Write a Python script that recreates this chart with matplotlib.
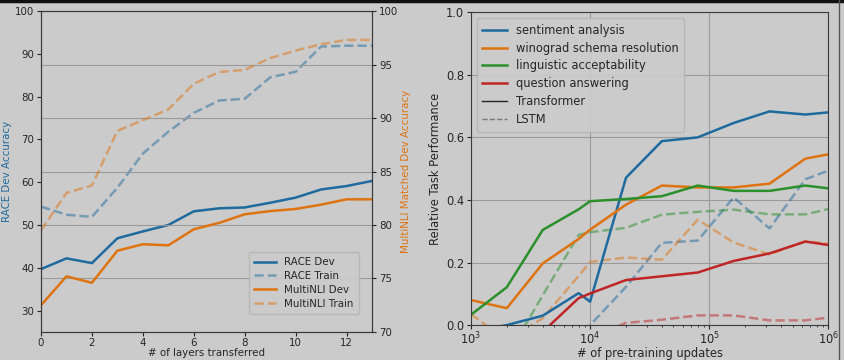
import matplotlib
matplotlib.use("Agg")
import matplotlib.pyplot as plt
from matplotlib.lines import Line2D
import numpy as np

# ---------------- data: left panel ----------------
layers = list(range(14))
race_dev = [39.7, 42.2, 41.1, 46.9, 48.5, 50.0, 53.2, 53.9, 54.1, 55.2, 56.4, 58.3, 59.1, 60.3]
race_train = [54.3, 52.4, 51.9, 58.7, 66.7, 71.8, 76.2, 79.1, 79.5, 84.5, 85.8, 91.7, 91.9, 91.9]
mnli_dev = [72.5, 75.2, 74.6, 77.6, 78.2, 78.1, 79.6, 80.2, 81.0, 81.3, 81.5, 81.9, 82.4, 82.4]
mnli_train = [79.5, 83.0, 83.7, 88.8, 89.8, 90.8, 93.2, 94.3, 94.5, 95.6, 96.3, 96.9, 97.3, 97.3]

# ---------------- data: right panel ----------------
updates = [1e3, 2e3, 4e3, 8e3, 1e4, 2e4, 4e4, 8e4, 1.6e5, 3.2e5, 6.4e5, 1e6]
tasks = ["sentiment analysis", "winograd schema resolution",
         "linguistic acceptability", "question answering"]
trans_sent = [-0.02, 0.0, 0.03, 0.102, 0.075, 0.471, 0.588, 0.600, 0.646, 0.683, 0.673, 0.680]
trans_wino = [0.080, 0.054, 0.197, 0.275, 0.305, 0.385, 0.446, 0.440, 0.440, 0.452, 0.532, 0.546]
trans_ling = [0.033, 0.121, 0.304, 0.370, 0.396, 0.403, 0.412, 0.446, 0.429, 0.429, 0.446, 0.437]
trans_qa = [-0.10, -0.05, -0.022, 0.086, 0.101, 0.144, 0.156, 0.168, 0.205, 0.229, 0.267, 0.256]
lstm_sent = [-0.15, -0.12, -0.09, -0.05, 0.0, 0.122, 0.263, 0.270, 0.408, 0.309, 0.466, 0.494]
lstm_wino = [0.035, -0.05, 0.022, 0.157, 0.202, 0.216, 0.209, 0.337, 0.264, 0.226, 0.268, 0.260]
lstm_ling = [-0.20, -0.10, 0.095, 0.288, 0.297, 0.311, 0.353, 0.362, 0.369, 0.354, 0.354, 0.371]
lstm_qa = [-0.20, -0.15, -0.10, -0.06, -0.04, 0.007, 0.017, 0.031, 0.031, 0.015, 0.015, 0.024]

BG = "#cbcbcb"
TXT = "#262626"
C_BLUE = "#1f6a9e"
C_ORANGE = "#de7310"
C_GREEN = "#2b8f2b"
C_RED = "#bf2526"
FS_L = 7.4
FS_R = 8.3

plt.rcParams.update({
    "font.family": "DejaVu Sans",
    "font.size": FS_L,
    "text.color": TXT,
    "axes.labelcolor": TXT,
    "xtick.color": TXT,
    "ytick.color": TXT,
    "axes.edgecolor": "#3a3a3a",
})

fig = plt.figure(figsize=(8.44, 3.6), dpi=100, facecolor=BG)

# ---------------- left panel ----------------
ax1 = fig.add_axes([0.0486, 0.0778, 0.3922, 0.8916])
ax1.set_facecolor(BG)
ax2 = ax1.twinx()

l1, = ax1.plot(layers, race_dev, color=C_BLUE, lw=1.8, label="RACE Dev")
l2, = ax1.plot(layers, race_train, color=C_BLUE, lw=1.8, ls="--", alpha=0.5, label="RACE Train")
l3, = ax2.plot(layers, mnli_dev, color=C_ORANGE, lw=1.8, label="MultiNLI Dev")
l4, = ax2.plot(layers, mnli_train, color=C_ORANGE, lw=1.8, ls="--", alpha=0.5, label="MultiNLI Train")

ax1.set_xlim(0, 13)
ax1.set_ylim(25, 100)
ax1.set_yticks(range(30, 101, 10))
ax1.set_xticks(range(0, 13, 2))
ax2.set_ylim(70, 100)
ax2.set_yticks(range(70, 101, 5))
ax2.yaxis.grid(True, color="#9a9a9a", lw=0.8)
ax2.set_axisbelow(True)
ax1.set_xlabel("# of layers transferred", fontsize=FS_L, labelpad=0)
ax1.set_ylabel("RACE Dev Accuracy", color=C_BLUE, fontsize=FS_L, labelpad=2)
ax2.set_ylabel("MultiNLI Matched Dev Accuracy", color=C_ORANGE, fontsize=FS_L, labelpad=2)
for a in (ax1, ax2):
    a.tick_params(labelsize=FS_L, length=3, pad=2)
ax1.tick_params(axis="x", pad=1.5)
ax2.legend(handles=[l1, l2, l3, l4], loc="lower right",
           bbox_to_anchor=(0.975, 0.04), fontsize=FS_L,
           facecolor=BG, edgecolor="#b5b5b5", framealpha=0.9,
           handlelength=2.1, borderpad=0.5, labelspacing=0.38)

# ---------------- right panel ----------------
ax3 = fig.add_axes([0.558, 0.097, 0.4236, 0.869])
ax3.set_facecolor(BG)
colors = [C_BLUE, C_ORANGE, C_GREEN, C_RED]
trans = [trans_sent, trans_wino, trans_ling, trans_qa]
lstm = [lstm_sent, lstm_wino, lstm_ling, lstm_qa]
handles = []
for c, l in zip(colors, lstm):
    ax3.plot(updates, l, color=c, lw=1.8, ls="--", alpha=0.5)
for name, c, t in zip(tasks, colors, trans):
    h, = ax3.plot(updates, t, color=c, lw=1.8, label=name)
    handles.append(h)
handles.append(Line2D([], [], color="#262626", lw=1.0, label="Transformer"))
handles.append(Line2D([], [], color="#262626", lw=1.0, ls="--", alpha=0.5, label="LSTM"))

ax3.set_xscale("log")
ax3.set_xlim(1e3, 1e6)
ax3.set_ylim(0, 1.0)
ax3.set_yticks(np.arange(0, 1.01, 0.2))
ax3.grid(True, which="major", color="#9a9a9a", lw=0.8)
ax3.set_axisbelow(True)
ax3.tick_params(labelsize=FS_R, length=3, pad=2)
ax3.tick_params(axis="x", pad=1)
ax3.tick_params(which="minor", length=1.5)
ax3.set_xlabel("# of pre-training updates", fontsize=FS_R, labelpad=0)
ax3.set_ylabel("Relative Task Performance", fontsize=FS_R, labelpad=3)
ax3.legend(handles=handles, loc="upper left", fontsize=FS_R,
           facecolor=BG, edgecolor="#b5b5b5", framealpha=0.9,
           handlelength=2.1, borderpad=0.5, labelspacing=0.42)

# screenshot border artifacts
fig.add_artist(Line2D([0, 1], [0.997, 0.997], transform=fig.transFigure, color="#111111", lw=2.5))
fig.add_artist(Line2D([0.9935, 0.9935], [0, 1], transform=fig.transFigure, color="#555555", lw=1.0))

fig.savefig("out.png", dpi=100, facecolor=BG)
